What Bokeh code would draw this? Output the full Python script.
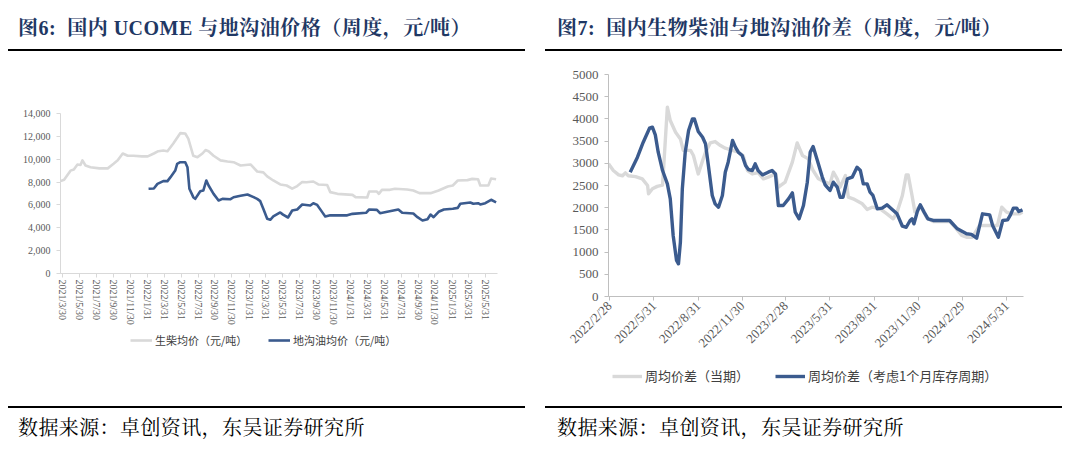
import pandas as pd
from bokeh.plotting import figure
from bokeh.models import (Div, FixedTicker, Range1d, Legend, LegendItem,
                          NumeralTickFormatter)
from bokeh.layouts import column, row
from bokeh.embed import file_html
from bokeh.resources import INLINE

# ---------------- data: figure 6 ----------------
diesel_dates = ["2021-03-23", "2021-04-05", "2021-04-28", "2021-05-10", "2021-05-23", "2021-06-03",
                "2021-06-10", "2021-06-21", "2021-07-09", "2021-08-10", "2021-09-09", "2021-09-30",
                "2021-10-15", "2021-11-02", "2021-11-20", "2021-12-10", "2022-01-10", "2022-01-31",
                "2022-02-22", "2022-03-10", "2022-03-28", "2022-04-12", "2022-05-03", "2022-05-28",
                "2022-06-15", "2022-06-26", "2022-07-14", "2022-07-29", "2022-08-16", "2022-08-27",
                "2022-09-07", "2022-09-25", "2022-10-20", "2022-11-14", "2022-12-06", "2022-12-31",
                "2023-02-05", "2023-03-01", "2023-03-23", "2023-04-06", "2023-04-28", "2023-05-23",
                "2023-06-15", "2023-07-05", "2023-07-23", "2023-08-10", "2023-08-25", "2023-09-19",
                "2023-10-07", "2023-11-08", "2023-11-19", "2023-12-15", "2024-02-07", "2024-02-18",
                "2024-03-31", "2024-04-07", "2024-05-05", "2024-05-12", "2024-05-23", "2024-06-21",
                "2024-07-09", "2024-08-22", "2024-09-13", "2024-10-05", "2024-11-14", "2024-12-13",
                "2025-01-15", "2025-02-02", "2025-02-20", "2025-03-27", "2025-04-13", "2025-05-04",
                "2025-05-12", "2025-06-10", "2025-06-20", "2025-07-08"]
diesel_vals = [8080, 8200, 9000, 9100, 9540, 9500,
               9900, 9450, 9300, 9200, 9200, 9600,
               9900, 10500, 10300, 10300, 10250, 10250,
               10500, 10700, 10760, 10700, 11375, 12280,
               12250, 11800, 10300, 10180, 10500, 10800,
               10700, 10300, 9900, 9800, 9740, 9450,
               9540, 8925, 8850, 8500, 8140, 7790,
               7700, 7420, 7650, 8000, 7980, 8050,
               7790, 7750, 7120, 6970, 6880, 6680,
               6650, 7170, 7170, 6970, 7320, 7320,
               7410, 7350, 7260, 7030, 7030, 7260,
               7610, 7700, 8140, 8170, 8280, 8250,
               7700, 7700, 8310, 8250]

uco_dates = ["2022-02-03", "2022-02-22", "2022-03-07", "2022-03-28", "2022-04-12", "2022-04-23",
             "2022-05-10", "2022-05-17", "2022-05-28", "2022-06-15", "2022-06-23", "2022-06-30",
             "2022-07-14", "2022-07-21", "2022-08-08", "2022-08-19", "2022-08-30", "2022-09-07",
             "2022-09-25", "2022-10-13", "2022-10-27", "2022-11-25", "2022-12-06", "2022-12-31",
             "2023-01-25", "2023-02-16", "2023-03-01", "2023-03-12", "2023-03-23", "2023-04-06",
             "2023-04-17", "2023-04-28", "2023-05-23", "2023-06-02", "2023-06-20", "2023-07-05",
             "2023-07-23", "2023-08-10", "2023-09-08", "2023-09-19", "2023-10-03", "2023-10-21",
             "2023-11-01", "2023-11-19", "2024-01-19", "2024-02-07", "2024-03-27", "2024-04-07",
             "2024-05-05", "2024-05-16", "2024-06-11", "2024-07-21", "2024-08-04", "2024-09-13",
             "2024-09-28", "2024-10-16", "2024-11-03", "2024-11-14", "2024-11-25", "2024-12-13",
             "2025-01-01", "2025-02-02", "2025-02-20", "2025-03-01", "2025-04-06", "2025-04-17",
             "2025-05-04", "2025-05-12", "2025-05-30", "2025-06-20", "2025-07-08"]
uco_vals = [7410, 7440, 7840, 8080, 8080, 8430,
            9010, 9600, 9740, 9740, 9300, 7410,
            6680, 6530, 7200, 7260, 8140, 7700,
            6970, 6390, 6530, 6500, 6670, 6800,
            6910, 6680, 6530, 6330, 5660, 4790,
            4700, 4990, 5340, 5150, 4900, 5510,
            5600, 6040, 5950, 6150, 6000, 5370,
            4990, 5090, 5090, 5220, 5310, 5600,
            5570, 5280, 5400, 5600, 5310, 5250,
            4930, 4640, 4750, 5160, 4930, 5400,
            5600, 5660, 5740, 6100, 6210, 6100,
            6150, 6040, 6150, 6450, 6230]

left_tick_labels = ["2021/3/30", "2021/5/30", "2021/7/30", "2021/9/30", "2021/11/30",
                    "2022/1/31", "2022/3/31", "2022/5/31", "2022/7/31", "2022/9/30", "2022/11/30",
                    "2023/1/31", "2023/3/31", "2023/5/31", "2023/7/31", "2023/9/30", "2023/11/30",
                    "2024/1/31", "2024/3/31", "2024/5/31", "2024/7/31", "2024/9/30", "2024/11/30",
                    "2025/1/31", "2025/3/31", "2025/5/31"]
left_y_ticks = [0, 2000, 4000, 6000, 8000, 10000, 12000, 14000]
left_series_names = ["生柴均价（元/吨）", "地沟油均价（元/吨）"]

# ---------------- data: figure 7 ----------------
cur_dates = ["2022-02-26", "2022-03-08", "2022-03-19", "2022-03-27", "2022-04-02", "2022-04-08",
             "2022-04-23", "2022-05-07", "2022-05-18", "2022-05-20", "2022-05-28", "2022-06-07",
             "2022-06-18", "2022-06-28", "2022-07-04", "2022-07-15", "2022-07-25", "2022-07-31",
             "2022-08-15", "2022-08-21", "2022-08-31", "2022-09-09", "2022-09-15", "2022-09-25",
             "2022-10-05", "2022-10-16", "2022-10-26", "2022-11-10", "2022-11-22", "2022-12-02",
             "2022-12-11", "2022-12-21", "2023-01-02", "2023-01-13", "2023-01-23", "2023-02-07",
             "2023-02-13", "2023-02-27", "2023-03-14", "2023-03-24", "2023-04-04", "2023-04-16",
             "2023-04-26", "2023-05-07", "2023-05-21", "2023-05-31", "2023-06-07", "2023-06-15",
             "2023-06-21", "2023-07-02", "2023-07-08", "2023-07-18", "2023-08-06", "2023-08-16",
             "2023-08-26", "2023-09-12", "2023-09-26", "2023-10-09", "2023-10-17", "2023-10-28",
             "2023-11-05", "2023-11-09", "2023-11-17", "2023-11-23", "2023-12-04", "2023-12-18",
             "2023-12-31", "2024-02-03", "2024-02-17", "2024-02-28", "2024-03-09", "2024-03-21",
             "2024-04-05", "2024-05-12", "2024-05-21", "2024-05-31", "2024-06-12", "2024-06-27",
             "2024-07-03"]
cur_vals = [2990, 2837, 2740, 2720, 2785, 2720,
            2700, 2650, 2500, 2313, 2425, 2480,
            2510, 4264, 3964, 3700, 3550, 3290,
            3290, 3175, 2760, 3060, 3250, 3460,
            3490, 3400, 3340, 3290, 3250, 3175,
            2837, 2760, 2790, 2650, 2690, 2760,
            2463, 2575, 3025, 3460, 3175, 3100,
            2837, 2650, 2575, 2537, 2800, 2650,
            2463, 2725, 2237, 2200, 2087, 1960,
            2012, 1975, 1862, 1750, 1900, 2275,
            2740, 2740, 2275, 1900, 2050, 1762,
            1690, 1690, 1524, 1374, 1336, 1336,
            1600, 1600, 2012, 1900, 1862, 1862,
            1900]

lag_dates = ["2022-04-12", "2022-04-27", "2022-05-09", "2022-05-22", "2022-05-28", "2022-06-03",
             "2022-06-09", "2022-06-18", "2022-06-28", "2022-07-04", "2022-07-10", "2022-07-17",
             "2022-07-21", "2022-07-25", "2022-07-29", "2022-08-04", "2022-08-11", "2022-08-19",
             "2022-08-23", "2022-08-31", "2022-09-09", "2022-09-15", "2022-09-21", "2022-09-29",
             "2022-10-05", "2022-10-12", "2022-10-20", "2022-10-26", "2022-11-01", "2022-11-10",
             "2022-11-16", "2022-11-22", "2022-11-30", "2022-12-07", "2022-12-13", "2022-12-21",
             "2022-12-27", "2023-01-02", "2023-01-11", "2023-01-23", "2023-01-31", "2023-02-07",
             "2023-02-13", "2023-02-23", "2023-03-06", "2023-03-14", "2023-03-20", "2023-03-28",
             "2023-04-06", "2023-04-14", "2023-04-20", "2023-04-26", "2023-05-05", "2023-05-15",
             "2023-05-21", "2023-05-25", "2023-05-31", "2023-06-07", "2023-06-15", "2023-06-21",
             "2023-06-27", "2023-07-06", "2023-07-16", "2023-07-26", "2023-08-02", "2023-08-08",
             "2023-08-16", "2023-08-22", "2023-08-28", "2023-09-06", "2023-09-16", "2023-09-26",
             "2023-10-07", "2023-10-17", "2023-10-28", "2023-11-05", "2023-11-13", "2023-11-17",
             "2023-11-21", "2023-11-28", "2023-12-04", "2023-12-12", "2023-12-20", "2023-12-31",
             "2024-02-03", "2024-02-19", "2024-03-09", "2024-03-19", "2024-03-30", "2024-04-11",
             "2024-04-26", "2024-05-02", "2024-05-14", "2024-05-23", "2024-06-02", "2024-06-08",
             "2024-06-14", "2024-06-21", "2024-06-25", "2024-07-03"]
lag_vals = [2800, 3137, 3475, 3790, 3813, 3640,
            3250, 2837, 2537, 2200, 1374, 811,
            736, 1223, 2425, 3250, 3738, 4000,
            4000, 3716, 3588, 3440, 2950, 2275,
            2087, 2012, 2275, 2800, 3025, 3513,
            3363, 3250, 3175, 2950, 2860, 2837,
            2988, 2837, 2740, 2800, 2837, 2760,
            2050, 2050, 2200, 2335, 1900, 1750,
            2050, 2575, 3250, 3380, 3060, 2690,
            2515, 2463, 2387, 2575, 2463, 2237,
            2237, 2650, 2687, 2912, 2837, 2537,
            2537, 2350, 2275, 1975, 1990, 2065,
            1960, 1862, 1583, 1560, 1712, 1750,
            1637, 1914, 2065, 1900, 1750, 1712,
            1712, 1524, 1412, 1400, 1313, 1862,
            1837, 1599, 1336, 1712, 1725, 1837,
            1990, 1990, 1914, 1950]

right_tick_labels = ["2022/2/28", "2022/5/31", "2022/8/31", "2022/11/30", "2023/2/28",
                     "2023/5/31", "2023/8/31", "2023/11/30", "2024/2/29", "2024/5/31"]
right_y_ticks = [0, 500, 1000, 1500, 2000, 2500, 3000, 3500, 4000, 4500, 5000]
right_series_names = ["周均价差（当期）", "周均价差（考虑1个月库存周期）"]

# ---------------- helpers ----------------
EPOCH = pd.Timestamp("1970-01-01")


def to_days(lst):
    return [int((pd.Timestamp(s) - EPOCH).days) for s in lst]


def tick_days(labels):
    return [int((pd.to_datetime(s, format="%Y/%m/%d") - EPOCH).days) for s in labels]


GRAY = "#D9D9D9"
BLUE = "#3B5B8E"
NAVY = "#1F3864"
SERIF = "Liberation Serif"
CJK = "Noto Sans CJK SC"
DIV_FONT = "'Liberation Serif','Noto Serif CJK SC','Noto Sans CJK SC',serif"


def style_axes(p, yticks, ysize, xsize, axis_color):
    p.outline_line_color = None
    p.xgrid.visible = False
    p.ygrid.visible = False
    for ax in (p.xaxis[0], p.yaxis[0]):
        ax.axis_line_color = axis_color
        ax.axis_line_width = 1
        ax.major_tick_line_color = axis_color
        ax.major_tick_out = 4
        ax.major_tick_in = 0
        ax.minor_tick_out = 0
        ax.minor_tick_in = 0
        ax.major_label_text_font = SERIF
        ax.major_label_text_color = "#595959"
    p.yaxis[0].ticker = FixedTicker(ticks=yticks)
    p.yaxis[0].major_label_text_font_size = ysize
    p.yaxis[0].major_label_standoff = 6
    p.xaxis[0].major_label_text_font_size = xsize


def title_div(text, indent, line_left, line_width):
    html = (f'<div style="margin-left:{line_left}px;width:{line_width}px;height:41px;'
            f'border-bottom:2px solid #000;box-sizing:content-box;">'
            f'<div style="padding-left:{indent}px;padding-top:8px;line-height:24px;'
            f'font-family:{DIV_FONT};font-weight:bold;font-size:20px;letter-spacing:0.5px;'
            f'color:{NAVY};white-space:nowrap;">{text}</div></div>')
    return Div(text=html, width=532, height=43, margin=0)


def source_div(indent, line_left, line_width):
    html = (f'<div style="margin-left:{line_left}px;width:{line_width}px;margin-top:6px;'
            f'border-top:2px solid #000;">'
            f'<div style="padding-left:{indent}px;padding-top:8px;line-height:24px;'
            f'font-family:{DIV_FONT};font-size:20px;letter-spacing:0.4px;color:#000;'
            f'white-space:nowrap;">数据来源：卓创资讯，东吴证券研究所</div></div>')
    return Div(text=html, width=532, height=35, margin=0)


def legend_strip(height, series, names, xlocs, vy, size, gw, lw):
    """A strip below a chart that holds its legend; its lines lie outside its view."""
    q = figure(width=532, height=height, output_backend="svg", toolbar_location=None,
               x_axis_type=None, y_axis_type=None, x_range=Range1d(0, 1), y_range=Range1d(0, 1),
               min_border=0)
    q.outline_line_color = None
    q.xgrid.visible = False
    q.ygrid.visible = False
    for (dates, vals, color), name, vx in zip(series, names, xlocs):
        r = q.line(to_days(dates), vals, line_color=color, line_width=lw)
        lg = Legend(items=[LegendItem(label=name, renderers=[r])], location=(vx, vy),
                    orientation="horizontal", glyph_width=gw, glyph_height=16,
                    label_height=16, label_text_font=CJK, label_text_font_size=size,
                    label_text_color="#404040", label_standoff=3, padding=0, margin=0,
                    border_line_alpha=0, background_fill_alpha=0)
        q.add_layout(lg)
    return q


# ---------------- figure 6 ----------------
ltd = tick_days(left_tick_labels)
p1 = figure(width=532, height=279, output_backend="svg", toolbar_location=None,
            x_range=Range1d(to_days(["2021-03-23"])[0], to_days(["2025-07-13"])[0]),
            y_range=Range1d(0, 14000),
            min_border_left=52, min_border_right=43, min_border_top=62, min_border_bottom=57)
p1.line(to_days(diesel_dates), diesel_vals, line_color=GRAY, line_width=2.6, line_join="round")
p1.line(to_days(uco_dates), uco_vals, line_color=BLUE, line_width=2.6, line_join="round")
style_axes(p1, left_y_ticks, "10px", "10px", "#D9D9D9")
p1.yaxis[0].formatter = NumeralTickFormatter(format="0,0")
p1.xaxis[0].ticker = FixedTicker(ticks=ltd)
p1.xaxis[0].major_label_overrides = {d: s for d, s in zip(ltd, left_tick_labels)}
p1.xaxis[0].major_label_orientation = "vertical"
p1.xaxis[0].major_label_standoff = 2
leg1 = legend_strip(70, [(diesel_dates, diesel_vals, GRAY), (uco_dates, uco_vals, BLUE)],
                    left_series_names, [70, 208], 52, "11px", 22, 2.6)

# ---------------- figure 7 ----------------
rtd = tick_days(right_tick_labels)
p2 = figure(width=532, height=311, output_backend="svg", toolbar_location=None,
            x_range=Range1d(to_days(["2022-02-26"])[0], to_days(["2024-07-05"])[0]),
            y_range=Range1d(0, 5000),
            min_border_left=68, min_border_right=49, min_border_top=23, min_border_bottom=66)
p2.line(to_days(cur_dates), cur_vals, line_color=GRAY, line_width=3.4, line_join="round")
p2.line(to_days(lag_dates), lag_vals, line_color=BLUE, line_width=3.4, line_join="round")
style_axes(p2, right_y_ticks, "13px", "13px", "#BFBFBF")
p2.xaxis[0].ticker = FixedTicker(ticks=rtd)
p2.xaxis[0].major_label_overrides = {d: s for d, s in zip(rtd, right_tick_labels)}
p2.xaxis[0].major_label_orientation = 0.785398
p2.xaxis[0].major_label_standoff = 3
leg2 = legend_strip(38, [(cur_dates, cur_vals, GRAY), (lag_dates, lag_vals, BLUE)],
                    right_series_names, [4, 167], 15, "13px", 30, 3.4)

left_col = column(title_div("图6:&nbsp;&nbsp;国内 UCOME 与地沟油价格（周度，元/吨）", 10, 0, 517),
                  p1, leg1, source_div(10, 0, 517), spacing=0)
right_col = column(title_div("图7:&nbsp;&nbsp;国内生物柴油与地沟油价差（周度，元/吨）", 12, 5, 517),
                   p2, leg2, source_div(12, 5, 517), spacing=0)
layout = row(left_col, right_col, spacing=0, margin=(8, 8, 8, 8))

open("out.html", "w").write(file_html(layout, INLINE))
